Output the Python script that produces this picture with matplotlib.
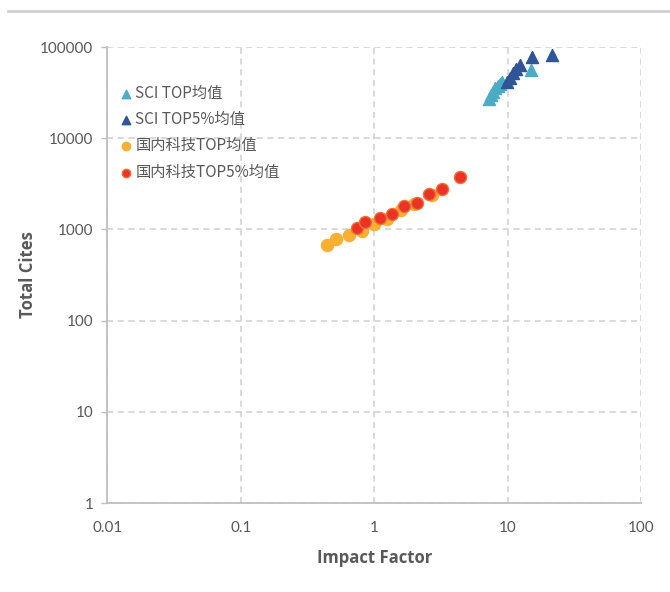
import matplotlib.pyplot as plt
from matplotlib.lines import Line2D
from matplotlib.ticker import FixedLocator, FixedFormatter

plt.rcParams['font.family'] = ['Noto Sans CJK SC', 'DejaVu Sans']

# SCI TOP means (light blue triangles)
sci_top_if = [7.2, 7.5, 7.8, 8.1, 8.4, 8.7, 9.0, 15.0]
sci_top_tc = [27000, 29500, 32500, 35200, 37500, 39500, 41500, 56500]

# SCI TOP5% means (dark blue triangles)
sci_top5_if = [9.9, 10.4, 11.0, 11.6, 12.4, 15.2, 21.4]
sci_top5_tc = [41000, 46000, 52000, 58000, 63000, 77000, 81000]

# domestic TOP means (orange circles)
cn_top_if = [0.44, 0.52, 0.65, 0.81, 1.0, 1.24, 1.59, 1.97, 2.70]
cn_top_tc = [680, 780, 875, 970, 1150, 1310, 1650, 1880, 2400]

# domestic TOP5% means (red circles)
cn_top5_if = [0.74, 0.86, 1.11, 1.36, 1.66, 2.09, 2.58, 3.21, 4.43]
cn_top5_tc = [1045, 1200, 1350, 1490, 1790, 1960, 2460, 2790, 3780]

labels = ['SCI TOP均值', 'SCI TOP5%均值', '国内科技TOP均值', '国内科技TOP5%均值']
x_ticks = [0.01, 0.1, 1, 10, 100]
x_tick_labels = ['0.01', '0.1', '1', '10', '100']
y_ticks = [1, 10, 100, 1000, 10000, 100000]
y_tick_labels = ['1', '10', '100', '1000', '10000', '100000']

text_color = '#595959'
grid_color = '#d0d0d0'

fig = plt.figure(figsize=(6.7, 5.92), dpi=100)
ax = fig.add_axes([0.16, 0.1503, 0.797, 0.7703])

ax.scatter(sci_top_if, sci_top_tc, marker='^', s=75, color='#4bacc6', label=labels[0], zorder=3)
ax.scatter(sci_top5_if, sci_top5_tc, marker='^', s=75, color='#2f5597', label=labels[1], zorder=4)
ax.scatter(cn_top_if, cn_top_tc, marker='o', s=75, color='#f7b031', label=labels[2], zorder=3)
ax.scatter(cn_top5_if, cn_top5_tc, marker='o', s=75, color='#ea3324', edgecolor='#f0703a',
           linewidth=1, label=labels[3], zorder=4)

ax.set_xscale('log')
ax.set_yscale('log')
ax.set_xlim(0.01, 100)
ax.set_ylim(1, 100000)

ax.xaxis.set_major_locator(FixedLocator(x_ticks))
ax.xaxis.set_major_formatter(FixedFormatter(x_tick_labels))
ax.yaxis.set_major_locator(FixedLocator(y_ticks))
ax.yaxis.set_major_formatter(FixedFormatter(y_tick_labels))
ax.minorticks_off()

ax.tick_params(axis='x', length=0, pad=13, labelsize=11, labelcolor=text_color)
ax.tick_params(axis='y', length=4, width=1, color='#bfbfbf', pad=6, labelsize=11, labelcolor=text_color)
for lbl in ax.get_xticklabels() + ax.get_yticklabels():
    lbl.set_family(['Liberation Sans Narrow', 'Lato', 'DejaVu Sans'])

ax.grid(True, which='major', linestyle=(0, (4, 3)), color=grid_color, linewidth=1.1, zorder=0)
ax.set_axisbelow(True)

for side in ['top', 'right']:
    ax.spines[side].set_visible(False)
for side in ['left', 'bottom']:
    ax.spines[side].set_color('#bfbfbf')
    ax.spines[side].set_linewidth(1.3)

ax.set_xlabel('Impact Factor', fontsize=12, fontweight='bold', color=text_color, labelpad=10,
              family=['Open Sans', 'DejaVu Sans'])
ax.set_ylabel('Total Cites', fontsize=12, fontweight='bold', color=text_color, labelpad=2,
              family=['Open Sans', 'DejaVu Sans'])

leg = ax.legend(loc='upper left', bbox_to_anchor=(0.0, 0.94), frameon=False, fontsize=11,
                handletextpad=0.15, labelspacing=0.6, handlelength=1.0, borderaxespad=0.3,
                markerscale=0.7)
for t in leg.get_texts():
    t.set_color(text_color)

# thin grey rule along the top of the picture
fig.add_artist(Line2D([0.012, 1.0], [1 - 11 / 592, 1 - 11 / 592], color='#d0d0d0', linewidth=2))

fig.savefig('out.png', dpi=100)
